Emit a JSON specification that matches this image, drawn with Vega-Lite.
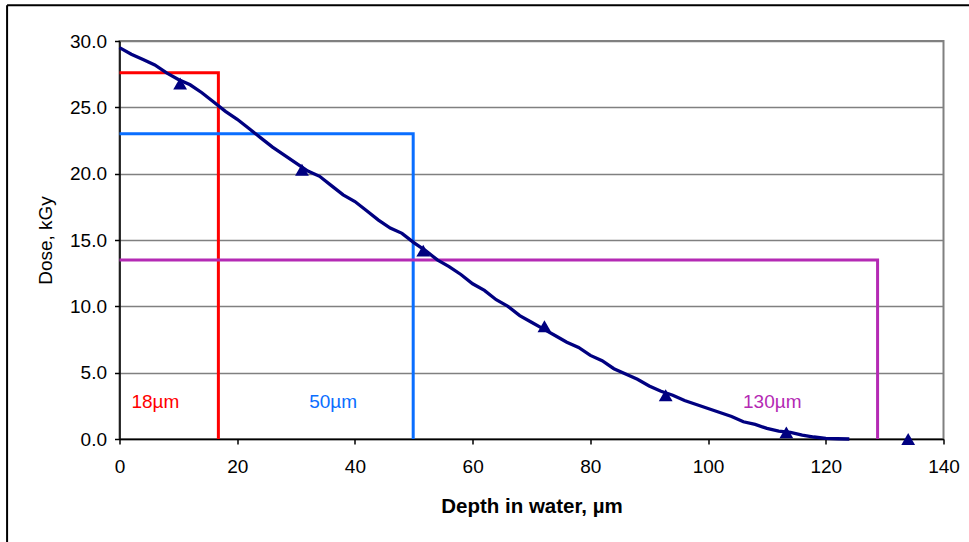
{
  "$schema": "https://vega.github.io/schema/vega-lite/v6.json",
  "width": 824,
  "height": 398,
  "autosize": {"type": "none"},
  "padding": {"left": 119.5, "top": 41, "right": 25.5, "bottom": 103},
  "background": "white",
  "config": {
    "view": {"stroke": "#808080", "strokeWidth": 2},
    "font": "Liberation Sans",
    "axis": {
      "labelFont": "Liberation Sans",
      "titleFont": "Liberation Sans",
      "labelColor": "#000",
      "titleColor": "#000",
      "domainColor": "#000",
      "domainWidth": 1.5,
      "tickColor": "#000",
      "tickWidth": 1.5,
      "tickSize": 5,
      "labelFontSize": 19,
      "titleFontSize": 19
    }
  },
  "datasets": {
    "curve": [
      {"x": 0, "y": 29.5}, {"x": 2, "y": 29.0}, {"x": 4, "y": 28.6}, {"x": 6, "y": 28.2},
      {"x": 8, "y": 27.6}, {"x": 10, "y": 27.1}, {"x": 12, "y": 26.7}, {"x": 14, "y": 26.1},
      {"x": 16, "y": 25.4}, {"x": 18, "y": 24.7}, {"x": 20, "y": 24.1}, {"x": 22, "y": 23.4},
      {"x": 24, "y": 22.7}, {"x": 26, "y": 22.0}, {"x": 28, "y": 21.4}, {"x": 30, "y": 20.8},
      {"x": 32, "y": 20.2}, {"x": 34, "y": 19.8}, {"x": 36, "y": 19.1}, {"x": 38, "y": 18.4},
      {"x": 40, "y": 17.9}, {"x": 42, "y": 17.2}, {"x": 44, "y": 16.5}, {"x": 46, "y": 15.9},
      {"x": 48, "y": 15.5}, {"x": 50, "y": 14.8}, {"x": 52, "y": 14.2}, {"x": 54, "y": 13.5},
      {"x": 56, "y": 13.0}, {"x": 58, "y": 12.4}, {"x": 60, "y": 11.7}, {"x": 62, "y": 11.2},
      {"x": 64, "y": 10.5}, {"x": 66, "y": 10.0}, {"x": 68, "y": 9.3}, {"x": 70, "y": 8.8},
      {"x": 72, "y": 8.3}, {"x": 74, "y": 7.8}, {"x": 76, "y": 7.3}, {"x": 78, "y": 6.9},
      {"x": 80, "y": 6.3}, {"x": 82, "y": 5.9}, {"x": 84, "y": 5.3}, {"x": 86, "y": 4.9},
      {"x": 88, "y": 4.5}, {"x": 90, "y": 4.0}, {"x": 92, "y": 3.6}, {"x": 94, "y": 3.3},
      {"x": 96, "y": 2.9}, {"x": 98, "y": 2.6}, {"x": 100, "y": 2.3}, {"x": 102, "y": 2.0},
      {"x": 104, "y": 1.7}, {"x": 106, "y": 1.3}, {"x": 108, "y": 1.1}, {"x": 110, "y": 0.8},
      {"x": 112, "y": 0.6}, {"x": 114, "y": 0.5}, {"x": 116, "y": 0.3}, {"x": 118, "y": 0.15},
      {"x": 120, "y": 0.05}, {"x": 122, "y": 0.02}, {"x": 124, "y": 0.0}
    ],
    "markers": [
      {"x": 10.3, "y": 26.8}, {"x": 31.0, "y": 20.3}, {"x": 51.6, "y": 14.2},
      {"x": 72.2, "y": 8.5}, {"x": 92.8, "y": 3.3}, {"x": 113.3, "y": 0.5}, {"x": 134.0, "y": 0.0}
    ],
    "rects": [
      {"grp": "18µm", "i": 0, "x": 0, "y": 27.6}, {"grp": "18µm", "i": 1, "x": 16.8, "y": 27.6}, {"grp": "18µm", "i": 2, "x": 16.8, "y": 0},
      {"grp": "50µm", "i": 0, "x": 0, "y": 23.0}, {"grp": "50µm", "i": 1, "x": 49.9, "y": 23.0}, {"grp": "50µm", "i": 2, "x": 49.9, "y": 0},
      {"grp": "130µm", "i": 0, "x": 0, "y": 13.5}, {"grp": "130µm", "i": 1, "x": 128.8, "y": 13.5}, {"grp": "130µm", "i": 2, "x": 128.8, "y": 0}
    ],
    "labels": [
      {"grp": "18µm", "x": 6.1, "y": 2.8},
      {"grp": "50µm", "x": 36.3, "y": 2.8},
      {"grp": "130µm", "x": 110.9, "y": 2.8}
    ]
  },
  "layer": [
    {
      "data": {"name": "rects"},
      "mark": {"type": "line", "strokeWidth": 3, "strokeCap": "butt", "strokeJoin": "miter"},
      "encoding": {
        "x": {"field": "x", "type": "quantitative",
              "scale": {"domain": [0, 140], "nice": false, "zero": false},
              "axis": {"title": "Depth in water, µm", "values": [0, 20, 40, 60, 80, 100, 120, 140],
                       "grid": false, "labelFlush": false, "labelPadding": 13, "titleFontWeight": "bold", "titlePadding": 20,
                       "titleFontSize": 20.5}},
        "y": {"field": "y", "type": "quantitative",
              "scale": {"domain": [0, 30], "nice": false, "zero": false},
              "axis": {"title": "Dose, kGy", "values": [0, 5, 10, 15, 20, 25, 30], "format": ".1f",
                       "grid": true, "gridColor": "#808080", "gridWidth": 1.3, "gridOpacity": 1,
                       "labelFlush": false, "labelPadding": 8, "titleFontWeight": "normal", "titlePadding": 14}},
        "color": {"field": "grp", "type": "nominal",
                  "scale": {"domain": ["18µm", "50µm", "130µm"], "range": ["#FF0000", "#0A6EFF", "#B42AB4"]},
                  "legend": null},
        "order": {"field": "i", "type": "quantitative"}
      }
    },
    {
      "data": {"name": "curve"},
      "mark": {"type": "line", "color": "#000080", "strokeWidth": 3.3},
      "encoding": {
        "x": {"field": "x", "type": "quantitative"},
        "y": {"field": "y", "type": "quantitative"}
      }
    },
    {
      "data": {"name": "markers"},
      "mark": {"type": "point", "shape": "triangle-up", "filled": true, "color": "#000080", "opacity": 1, "size": 190},
      "encoding": {
        "x": {"field": "x", "type": "quantitative"},
        "y": {"field": "y", "type": "quantitative"}
      }
    },
    {
      "data": {"name": "labels"},
      "mark": {"type": "text", "fontSize": 19, "font": "Liberation Sans", "align": "center", "baseline": "middle"},
      "encoding": {
        "x": {"field": "x", "type": "quantitative"},
        "y": {"field": "y", "type": "quantitative"},
        "text": {"field": "grp"},
        "color": {"field": "grp", "type": "nominal", "legend": null}
      }
    },
    {
      "data": {"values": [{}]},
      "mark": {"type": "rule", "color": "#000", "strokeWidth": 2},
      "encoding": {
        "x": {"datum": -19.1, "type": "quantitative"},
        "y": {"datum": 32.7, "type": "quantitative"},
        "y2": {"datum": -9}
      }
    },
    {
      "data": {"values": [{}]},
      "mark": {"type": "rule", "color": "#000", "strokeWidth": 2},
      "encoding": {
        "x": {"datum": -19.1, "type": "quantitative"},
        "x2": {"datum": 150},
        "y": {"datum": 32.7, "type": "quantitative"}
      }
    }
  ]
}
